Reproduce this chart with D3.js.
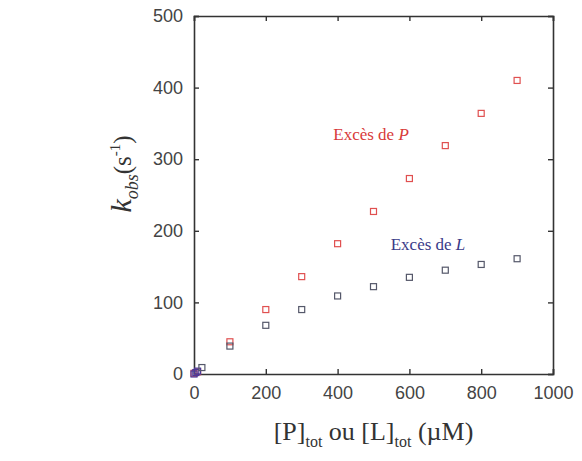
<!DOCTYPE html>
<html>
<head>
<meta charset="utf-8">
<script src="https://cdn.jsdelivr.net/npm/d3@7"></script>
<style>
  body { margin: 0; background: #fff; }
</style>
</head>
<body>
<div id="chart"></div>
<script>
// kobs values
var concP = [0, 10, 100, 200, 300, 400, 500, 600, 700, 800, 900];
var kobsP = [1, 3, 45, 90, 136, 182, 227, 273, 319, 364, 410];

var concL = [0, 5, 10, 22, 100, 200, 300, 400, 500, 600, 700, 800, 900];
var kobsL = [0, 2, 4, 9, 39, 68, 90, 109, 122, 135, 145, 153, 161];

var xTicks = [0, 200, 400, 600, 800, 1000];
var yTicks = [0, 100, 200, 300, 400, 500];

var svgWidth = 582;
var svgHeight = 461;

var margin = { top: 16, right: 29, bottom: 87, left: 194 };
var width = svgWidth - margin.left - margin.right;
var height = svgHeight - margin.top - margin.bottom;

var svg = d3.select("#chart")
  .append("svg")
  .attr("width", svgWidth)
  .attr("height", svgHeight);

var g = svg.append("g")
  .attr("transform", `translate(${margin.left}, ${margin.top})`);

var xScale = d3.scaleLinear().domain([0, 1000]).range([0, width]);
var yScale = d3.scaleLinear().domain([0, 500]).range([height, 0]);

// bottom axis with labels, inward ticks
var bottomAxis = g.append("g")
  .attr("transform", `translate(0, ${height})`)
  .call(d3.axisBottom(xScale).tickValues(xTicks).tickSize(-5).tickPadding(12).tickFormat(d3.format("d")));

var leftAxis = g.append("g")
  .call(d3.axisLeft(yScale).tickValues(yTicks).tickSize(-5).tickPadding(11).tickFormat(d3.format("d")));

// top and right: ticks only
var topAxis = g.append("g")
  .call(d3.axisTop(xScale).tickValues(xTicks).tickSize(-5).tickFormat(""));

var rightAxis = g.append("g")
  .attr("transform", `translate(${width}, 0)`)
  .call(d3.axisRight(yScale).tickValues(yTicks).tickSize(-5).tickFormat(""));

[bottomAxis, leftAxis, topAxis, rightAxis].forEach(function(ax) {
  ax.select(".domain").attr("stroke", "#333").attr("stroke-width", 1.6);
  ax.selectAll(".tick line").attr("stroke", "#333").attr("stroke-width", 1.4);
  ax.selectAll(".tick text")
    .attr("font-family", "Liberation Sans, Arial, sans-serif")
    .attr("font-size", 18)
    .attr("fill", "#444");
});

// data points
var dataP = concP.map((c, i) => ({ x: c, y: kobsP[i] }));
var dataL = concL.map((c, i) => ({ x: c, y: kobsL[i] }));

var s = 6;
g.selectAll(".ptP")
  .data(dataP)
  .enter()
  .append("rect")
  .attr("class", "ptP")
  .attr("x", d => xScale(d.x) - s / 2)
  .attr("y", d => yScale(d.y) - s / 2)
  .attr("width", s)
  .attr("height", s)
  .attr("fill", "none")
  .attr("stroke", "#e05050")
  .attr("stroke-width", 1.2);

g.selectAll(".ptL")
  .data(dataL)
  .enter()
  .append("rect")
  .attr("class", "ptL")
  .attr("x", d => xScale(d.x) - s / 2)
  .attr("y", d => yScale(d.y) - s / 2)
  .attr("width", s)
  .attr("height", s)
  .attr("fill", "none")
  .attr("stroke", d => d.x < 15 ? "#4a3a9a" : "#55586a")
  .attr("stroke-width", 1.2);

// annotations
var annP = g.append("text")
  .attr("x", xScale(388))
  .attr("y", yScale(327))
  .attr("font-family", "Liberation Serif, serif")
  .attr("font-size", 17)
  .attr("fill", "#d83a3a");
annP.append("tspan").text("Excès de ");
annP.append("tspan").attr("font-style", "italic").text("P");

var annL = g.append("text")
  .attr("x", xScale(548))
  .attr("y", yScale(173))
  .attr("font-family", "Liberation Serif, serif")
  .attr("font-size", 17)
  .attr("fill", "#3a3a88");
annL.append("tspan").text("Excès de ");
annL.append("tspan").attr("font-style", "italic").text("L");

// x axis title
var xt = svg.append("text")
  .attr("x", margin.left + width / 2)
  .attr("y", 440)
  .attr("text-anchor", "middle")
  .attr("font-family", "Liberation Serif, serif")
  .attr("fill", "#333")
  .attr("font-size", 26);
xt.append("tspan").text("[P]");
xt.append("tspan").attr("font-size", 16).attr("dy", 7).text("tot");
xt.append("tspan").attr("dy", -7).text(" ou [L]");
xt.append("tspan").attr("font-size", 16).attr("dy", 7).text("tot");
xt.append("tspan").attr("dy", -7).text(" (µM)");

// y axis title
var yt = svg.append("text")
  .attr("transform", "translate(131, 174) rotate(-90)")
  .attr("text-anchor", "middle")
  .attr("font-family", "Liberation Serif, serif")
  .attr("fill", "#333")
  .attr("font-size", 30);
yt.append("tspan").attr("font-style", "italic").text("k");
yt.append("tspan").attr("font-style", "italic").attr("font-size", 18).attr("dy", 7).text("obs");
yt.append("tspan").attr("dy", -7).attr("font-size", 25).text("(s");
yt.append("tspan").attr("font-size", 15).attr("dy", -11).text("-1");
yt.append("tspan").attr("font-size", 25).attr("dy", 11).text(")");
</script>
</body>
</html>
